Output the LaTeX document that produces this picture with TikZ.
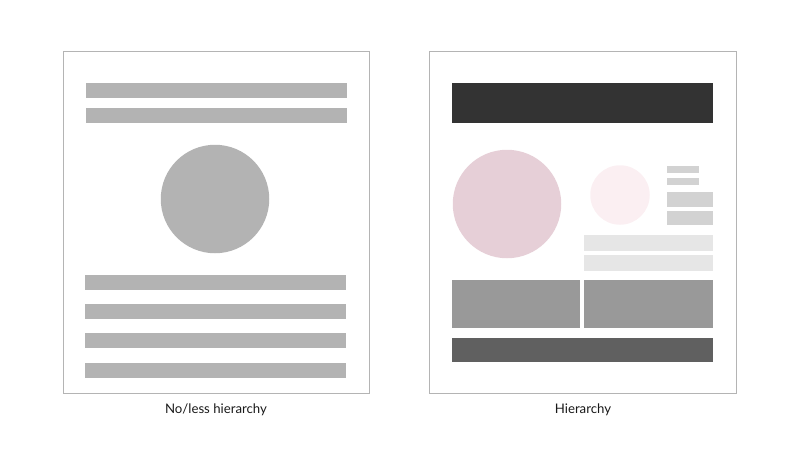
\documentclass[tikz,border=0pt]{standalone}
\usepackage{fontspec}
\setmainfont{Lato}
\definecolor{framegray}{HTML}{B4B4B4}
\definecolor{bargray}{HTML}{B3B3B3}
\definecolor{headdark}{HTML}{333333}
\definecolor{rosebig}{HTML}{E6CFD7}
\definecolor{rosesmall}{HTML}{FBEFF2}
\definecolor{midgray}{HTML}{D2D2D2}
\definecolor{palegray}{HTML}{E6E6E6}
\definecolor{blockgray}{HTML}{999999}
\definecolor{footgray}{HTML}{606060}

\tikzstyle{block} = [rectangle,draw=none,inner sep=0pt,outer sep=0pt,anchor=north west]
\tikzstyle{frame} = [block,draw=framegray,line width=0.9pt]
\tikzstyle{disc} = [circle,draw=none,inner sep=0pt,outer sep=0pt]
\tikzstyle{caption} = [font=\fontsize{13.2}{15}\selectfont,text=black!90]

\begin{document}
\begin{tikzpicture}[x=1pt,y=-1pt]
	\useasboundingbox (0,0) rectangle (800,453);
	% left page: no hierarchy
	\node (lpage) [frame,minimum width=306pt,minimum height=342pt] at (63,51) {};
	\node (ltext1) [block,fill=bargray,minimum width=261pt,minimum height=14.5pt] at (86,83) {};
	\node (ltext2) [block,fill=bargray,minimum width=261pt,minimum height=14.5pt] at (86,108) {};
	\node (limage) [disc,fill=bargray,minimum size=108.5pt] at (215,199) {};
	\node (ltext3) [block,fill=bargray,minimum width=261pt,minimum height=14.5pt] at (85,275) {};
	\node (ltext4) [block,fill=bargray,minimum width=261pt,minimum height=14.5pt] at (85,304) {};
	\node (ltext5) [block,fill=bargray,minimum width=261pt,minimum height=14.5pt] at (85,333) {};
	\node (ltext6) [block,fill=bargray,minimum width=261pt,minimum height=14.5pt] at (85,363) {};
	% right page: hierarchy
	\node (rpage) [frame,minimum width=307pt,minimum height=342pt] at (429,51) {};
	\node (rhead) [block,fill=headdark,minimum width=261pt,minimum height=39.5pt] at (452,83) {};
	\node (rimage) [disc,fill=rosebig,minimum size=108.5pt] at (507,204) {};
	\node (rthumb) [disc,fill=rosesmall,minimum size=59.5pt] at (620,195) {};
	\node (rtag1) [block,fill=midgray,minimum width=31.5pt,minimum height=7pt] at (667,166) {};
	\node (rtag2) [block,fill=midgray,minimum width=31.5pt,minimum height=6.5pt] at (667,178) {};
	\node (rtag3) [block,fill=midgray,minimum width=46pt,minimum height=14.5pt] at (667,192) {};
	\node (rtag4) [block,fill=midgray,minimum width=46pt,minimum height=14pt] at (667,211) {};
	\node (rline1) [block,fill=palegray,minimum width=129pt,minimum height=15.5pt] at (584,235) {};
	\node (rline2) [block,fill=palegray,minimum width=129pt,minimum height=15.5pt] at (584,255) {};
	\node (rcard1) [block,fill=blockgray,minimum width=127.5pt,minimum height=47.5pt] at (452,280) {};
	\node (rcard2) [block,fill=blockgray,minimum width=129pt,minimum height=47.5pt] at (584,280) {};
	\node (rfoot) [block,fill=footgray,minimum width=261pt,minimum height=23.5pt] at (452,338) {};
	% captions
	\node (lcaption) [caption] at (216,410) {No/less hierarchy};
	\node (rcaption) [caption] at (583,410) {Hierarchy};
\end{tikzpicture}
\end{document}
